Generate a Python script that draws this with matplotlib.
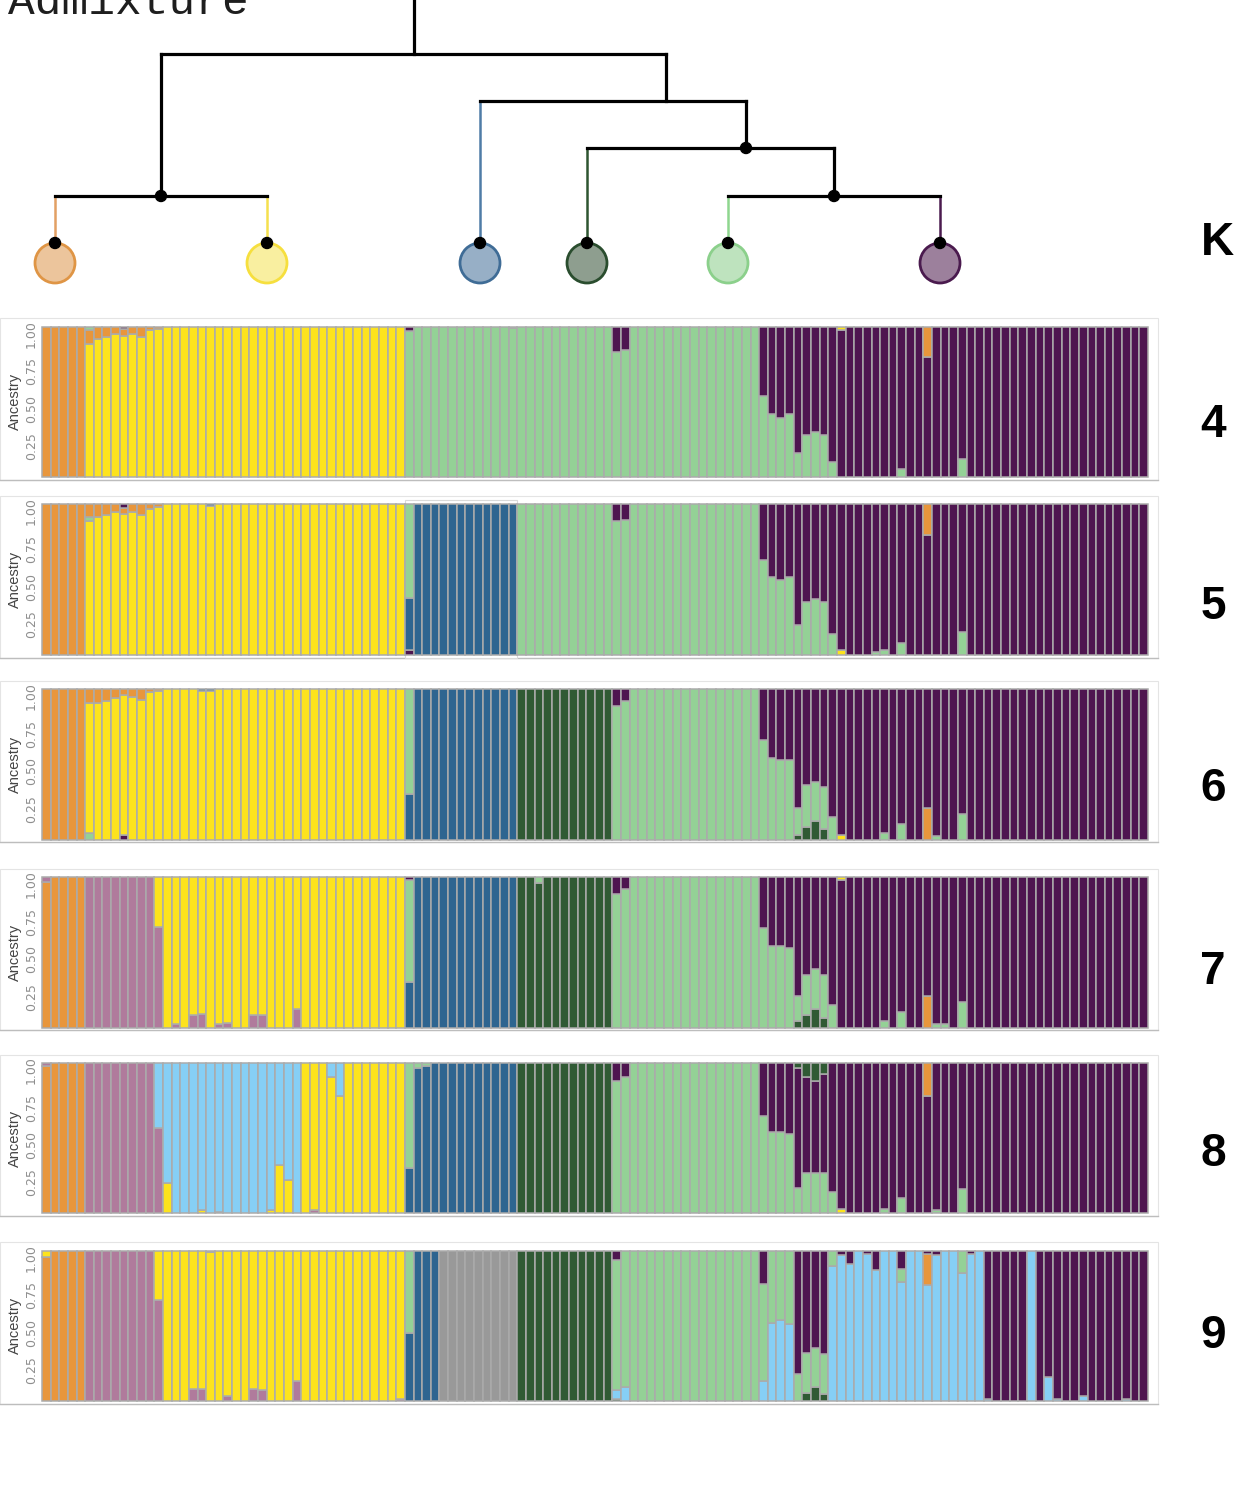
#!/usr/bin/env python3
"""Admixture tree plus stacked ancestry bars for K = 4..9."""

import matplotlib

matplotlib.use("Agg")
import matplotlib.pyplot as plt
from matplotlib.patches import Circle, Rectangle
from matplotlib.transforms import ScaledTranslation

W, H, DPI = 1239, 1495, 100

COLORS = {
    "orange": "#E8963C",
    "yellow": "#FDE31D",
    "lgreen": "#94D196",
    "purple": "#4E1550",
    "blue": "#2E6590",
    "dgreen": "#305A34",
    "mauve": "#B07B9C",
    "lblue": "#86CFF5",
    "gray": "#999999",
}
BAR_EDGE = "#ABABAB"
N_SAMPLES = 128

# pure-ancestry runs (cluster, number of samples), left to right
K4_RUNS = [("orange", 5), ("yellow", 37), ("lgreen", 41), ("purple", 45)]
K5_RUNS = [("orange", 5), ("yellow", 37), ("lgreen", 1), ("blue", 12), ("lgreen", 28), ("purple", 45)]
K6_RUNS = [("orange", 5), ("yellow", 37), ("lgreen", 1), ("blue", 12), ("dgreen", 11),
           ("lgreen", 17), ("purple", 45)]
K7_RUNS = [("orange", 5), ("mauve", 9), ("yellow", 28), ("lgreen", 1), ("blue", 12), ("dgreen", 11),
           ("lgreen", 17), ("purple", 45)]
K8_RUNS = [("orange", 5), ("mauve", 9), ("lblue", 16), ("yellow", 12), ("lgreen", 1), ("blue", 12),
           ("dgreen", 11), ("lgreen", 17), ("purple", 45)]
K9_RUNS = [("orange", 5), ("mauve", 9), ("yellow", 28), ("lgreen", 1), ("blue", 3), ("gray", 9),
           ("dgreen", 11), ("lgreen", 25), ("lblue", 18), ("purple", 19)]

# admixed samples: index -> segments from bottom to top
K4_MIXED = {
    5: [("yellow", .885), ("orange", .09), ("lgreen", .025)],
    6: [("yellow", .92), ("orange", .08)],
    7: [("yellow", .93), ("orange", .07)],
    8: [("yellow", .95), ("orange", .05)],
    9: [("yellow", .94), ("orange", .045), ("purple", .015)],
    10: [("yellow", .95), ("orange", .05)],
    11: [("yellow", .93), ("orange", .07)],
    12: [("yellow", .98), ("orange", .02)],
    13: [("yellow", .985), ("orange", .015)],
    42: [("lgreen", .97), ("purple", .03)],
    54: [("lgreen", .99), ("yellow", .01)],
    66: [("lgreen", .83), ("purple", .17)],
    67: [("lgreen", .845), ("purple", .155)],
    83: [("lgreen", .54), ("purple", .46)],
    84: [("lgreen", .42), ("purple", .58)],
    85: [("lgreen", .39), ("purple", .61)],
    86: [("lgreen", .42), ("purple", .58)],
    87: [("lgreen", .16), ("purple", .84)],
    88: [("lgreen", .28), ("purple", .72)],
    89: [("lgreen", .30), ("purple", .70)],
    90: [("lgreen", .28), ("purple", .72)],
    91: [("lgreen", .10), ("purple", .90)],
    92: [("purple", .98), ("yellow", .02)],
    99: [("lgreen", .05), ("purple", .95)],
    102: [("purple", .80), ("orange", .20)],
    106: [("lgreen", .12), ("purple", .88)],
}
K5_MIXED = {
    5: [("yellow", .89), ("lgreen", .03), ("orange", .08)],
    6: [("yellow", .92), ("orange", .08)],
    7: [("yellow", .93), ("orange", .07)],
    8: [("yellow", .95), ("orange", .05)],
    9: [("yellow", .94), ("orange", .04), ("purple", .02)],
    10: [("yellow", .95), ("orange", .05)],
    11: [("yellow", .93), ("orange", .07)],
    12: [("yellow", .97), ("orange", .03)],
    13: [("yellow", .985), ("orange", .015)],
    19: [("yellow", .99), ("blue", .01)],
    42: [("purple", .03), ("blue", .35), ("lgreen", .62)],
    66: [("lgreen", .89), ("purple", .11)],
    67: [("lgreen", .90), ("purple", .10)],
    83: [("lgreen", .63), ("purple", .37)],
    84: [("lgreen", .52), ("purple", .48)],
    85: [("lgreen", .50), ("purple", .50)],
    86: [("lgreen", .52), ("purple", .48)],
    87: [("lgreen", .20), ("purple", .80)],
    88: [("lgreen", .35), ("purple", .65)],
    89: [("lgreen", .37), ("purple", .63)],
    90: [("lgreen", .35), ("purple", .65)],
    91: [("lgreen", .14), ("purple", .86)],
    92: [("yellow", .03), ("purple", .97)],
    96: [("lgreen", .02), ("purple", .98)],
    97: [("lgreen", .03), ("purple", .97)],
    99: [("lgreen", .08), ("purple", .92)],
    102: [("purple", .80), ("orange", .20)],
    106: [("lgreen", .15), ("purple", .85)],
}
K6_MIXED = {
    5: [("lgreen", .04), ("yellow", .87), ("orange", .09)],
    6: [("yellow", .91), ("orange", .09)],
    7: [("yellow", .92), ("orange", .08)],
    8: [("yellow", .94), ("orange", .06)],
    9: [("purple", .03), ("yellow", .93), ("orange", .04)],
    10: [("yellow", .95), ("orange", .05)],
    11: [("yellow", .93), ("orange", .07)],
    12: [("yellow", .98), ("orange", .02)],
    13: [("yellow", .99), ("orange", .01)],
    18: [("yellow", .99), ("blue", .01)],
    19: [("yellow", .99), ("blue", .01)],
    42: [("blue", .30), ("lgreen", .70)],
    66: [("lgreen", .89), ("purple", .11)],
    67: [("lgreen", .92), ("purple", .08)],
    83: [("lgreen", .66), ("purple", .34)],
    84: [("lgreen", .54), ("purple", .46)],
    85: [("lgreen", .53), ("purple", .47)],
    86: [("lgreen", .53), ("purple", .47)],
    87: [("dgreen", .03), ("lgreen", .18), ("purple", .79)],
    88: [("dgreen", .08), ("lgreen", .28), ("purple", .64)],
    89: [("dgreen", .12), ("lgreen", .26), ("purple", .62)],
    90: [("dgreen", .07), ("lgreen", .28), ("purple", .65)],
    91: [("lgreen", .15), ("purple", .85)],
    92: [("yellow", .03), ("purple", .97)],
    97: [("lgreen", .04), ("purple", .96)],
    99: [("lgreen", .10), ("purple", .90)],
    102: [("orange", .21), ("purple", .79)],
    103: [("lgreen", .02), ("purple", .98)],
    106: [("lgreen", .17), ("purple", .83)],
}
K7_MIXED = {
    0: [("orange", .97), ("mauve", .03)],
    13: [("mauve", .67), ("yellow", .33)],
    15: [("mauve", .02), ("yellow", .98)],
    17: [("mauve", .08), ("yellow", .92)],
    18: [("mauve", .09), ("yellow", .91)],
    20: [("mauve", .02), ("yellow", .98)],
    21: [("mauve", .03), ("yellow", .97)],
    24: [("mauve", .08), ("yellow", .92)],
    25: [("mauve", .08), ("yellow", .92)],
    29: [("mauve", .12), ("yellow", .88)],
    42: [("blue", .30), ("lgreen", .68), ("purple", .02)],
    57: [("dgreen", .96), ("lgreen", .04)],
    66: [("lgreen", .89), ("purple", .11)],
    67: [("lgreen", .92), ("purple", .08)],
    83: [("lgreen", .66), ("purple", .34)],
    84: [("lgreen", .54), ("purple", .46)],
    85: [("lgreen", .54), ("purple", .46)],
    86: [("lgreen", .53), ("purple", .47)],
    87: [("dgreen", .04), ("lgreen", .17), ("purple", .79)],
    88: [("dgreen", .08), ("lgreen", .27), ("purple", .65)],
    89: [("dgreen", .12), ("lgreen", .27), ("purple", .61)],
    90: [("dgreen", .06), ("lgreen", .29), ("purple", .65)],
    91: [("lgreen", .15), ("purple", .85)],
    92: [("purple", .98), ("yellow", .02)],
    97: [("lgreen", .04), ("purple", .96)],
    99: [("lgreen", .10), ("purple", .90)],
    102: [("orange", .21), ("purple", .79)],
    103: [("lgreen", .02), ("purple", .98)],
    104: [("lgreen", .02), ("purple", .98)],
    106: [("lgreen", .17), ("purple", .83)],
}
K8_MIXED = {
    0: [("orange", .98), ("mauve", .02)],
    13: [("mauve", .57), ("lblue", .43)],
    14: [("yellow", .20), ("lblue", .80)],
    18: [("yellow", .02), ("lblue", .98)],
    20: [("yellow", .01), ("lblue", .99)],
    26: [("yellow", .02), ("lblue", .98)],
    27: [("yellow", .32), ("lblue", .68)],
    28: [("yellow", .22), ("lblue", .78)],
    31: [("mauve", .02), ("yellow", .98)],
    33: [("yellow", .91), ("lblue", .09)],
    34: [("yellow", .78), ("lblue", .22)],
    42: [("blue", .30), ("lgreen", .70)],
    43: [("blue", .97), ("lgreen", .03)],
    44: [("blue", .98), ("lgreen", .02)],
    66: [("lgreen", .88), ("purple", .12)],
    67: [("lgreen", .91), ("purple", .09)],
    83: [("lgreen", .65), ("purple", .35)],
    84: [("lgreen", .54), ("purple", .46)],
    85: [("lgreen", .54), ("purple", .46)],
    86: [("lgreen", .53), ("purple", .47)],
    87: [("lgreen", .17), ("purple", .80), ("dgreen", .03)],
    88: [("lgreen", .27), ("purple", .64), ("dgreen", .09)],
    89: [("lgreen", .27), ("purple", .61), ("dgreen", .12)],
    90: [("lgreen", .27), ("purple", .66), ("dgreen", .07)],
    91: [("lgreen", .14), ("purple", .86)],
    92: [("yellow", .03), ("purple", .97)],
    97: [("lgreen", .03), ("purple", .97)],
    99: [("lgreen", .10), ("purple", .90)],
    102: [("purple", .78), ("orange", .22)],
    103: [("lgreen", .02), ("purple", .98)],
    106: [("lgreen", .16), ("purple", .84)],
}
K9_MIXED = {
    0: [("orange", .96), ("yellow", .04)],
    13: [("mauve", .67), ("yellow", .33)],
    17: [("mauve", .08), ("yellow", .92)],
    18: [("mauve", .08), ("yellow", .92)],
    19: [("yellow", .99), ("gray", .01)],
    21: [("mauve", .03), ("yellow", .97)],
    24: [("mauve", .08), ("yellow", .92)],
    25: [("mauve", .07), ("yellow", .93)],
    29: [("mauve", .13), ("yellow", .87)],
    41: [("mauve", .01), ("yellow", .99)],
    42: [("blue", .45), ("lgreen", .55)],
    66: [("dgreen", .01), ("lblue", .06), ("lgreen", .87), ("purple", .06)],
    67: [("lblue", .095), ("lgreen", .905)],
    83: [("lblue", .13), ("lgreen", .65), ("purple", .22)],
    84: [("lblue", .52), ("lgreen", .48)],
    85: [("lblue", .54), ("lgreen", .46)],
    86: [("lblue", .51), ("lgreen", .49)],
    87: [("lgreen", .18), ("purple", .82)],
    88: [("dgreen", .055), ("lgreen", .265), ("purple", .68)],
    89: [("dgreen", .09), ("lgreen", .26), ("purple", .65)],
    90: [("dgreen", .045), ("lgreen", .265), ("purple", .69)],
    91: [("lblue", .90), ("lgreen", .10)],
    92: [("lblue", .97), ("purple", .03)],
    93: [("lblue", .91), ("purple", .09)],
    95: [("lblue", .98), ("purple", .02)],
    96: [("lblue", .87), ("purple", .13)],
    99: [("lblue", .795), ("lgreen", .085), ("purple", .12)],
    102: [("lblue", .775), ("orange", .205), ("purple", .02)],
    103: [("lblue", .97), ("purple", .03)],
    106: [("lblue", .85), ("lgreen", .15)],
    107: [("lblue", .98), ("purple", .02)],
    109: [("lblue", .01), ("purple", .99)],
    114: [("lblue", 1.0)],
    116: [("lblue", .16), ("purple", .84)],
    117: [("lblue", .01), ("purple", .99)],
    120: [("lblue", .03), ("purple", .97)],
    125: [("lblue", .01), ("purple", .99)],
}

PANELS = [
    (4, K4_RUNS, K4_MIXED),
    (5, K5_RUNS, K5_MIXED),
    (6, K6_RUNS, K6_MIXED),
    (7, K7_RUNS, K7_MIXED),
    (8, K8_RUNS, K8_MIXED),
    (9, K9_RUNS, K9_MIXED),
]
# pixel rows (top, bottom) of each bar panel, and the baseline of its K number
PANEL_ROWS = [(326.7, 477), (504.5, 655), (689, 839.5), (877, 1027.5), (1063, 1213), (1250.7, 1401)]
K_LABEL_BASE = [437, 619, 801, 984, 1166, 1348]
BAR_LEFT, BAR_RIGHT = 42, 1148

# tree layout in pixels: leaves (cluster, x, top of stem) and internal branches
LEAF_Y, LEAF_R, TIP_Y = 263, 20, 243
LEAVES = [("orange", 55, 196), ("yellow", 267, 196), ("blue", 480, 101),
          ("dgreen", 587, 148), ("lgreen", 728, 196), ("purple", 940, 196)]
LEAF_FILL = {"orange": "#ECC59C", "yellow": "#F9EFA0", "blue": "#97AFC6",
             "dgreen": "#8E9E8F", "lgreen": "#BEE3BE", "purple": "#9C809C"}
LEAF_EDGE = {"orange": "#DF9545", "yellow": "#F6DF3E", "blue": "#3F6C96",
             "dgreen": "#2A4D2E", "lgreen": "#8BD08B", "purple": "#4A1A4E"}
STEM = {"orange": "#E2A064", "yellow": "#F5E04E", "blue": "#4F7CA6",
        "dgreen": "#2E5531", "lgreen": "#8FD68F", "purple": "#4B1A4F"}
BRANCHES = [
    ((414, 0), (414, 54)), ((161, 54), (666, 54)), ((161, 54), (161, 196)),
    ((55, 196), (267, 196)), ((666, 54), (666, 101)), ((480, 101), (746, 101)),
    ((746, 101), (746, 148)), ((587, 148), (834, 148)), ((834, 148), (834, 196)),
    ((728, 196), (940, 196)),
]
NODES = [(161, 196), (746, 148), (834, 196)]


def columns(runs, mixed):
    cols = []
    for name, count in runs:
        cols.extend([[(name, 1.0)] for _ in range(count)])
    assert len(cols) == N_SAMPLES
    for idx, segs in mixed.items():
        cols[idx] = segs
    return cols


def draw_tree(canvas):
    for (x0, y0), (x1, y1) in BRANCHES:
        canvas.plot([x0, x1], [y0, y1], color="black", lw=2.3, solid_capstyle="projecting", zorder=2)
    for name, x, y_top in LEAVES:
        canvas.plot([x, x], [y_top, TIP_Y], color=STEM[name], lw=1.8, zorder=1)
        canvas.add_patch(Circle((x, LEAF_Y), LEAF_R, facecolor=LEAF_FILL[name],
                                edgecolor=LEAF_EDGE[name], lw=2.0, zorder=3))
        canvas.add_patch(Circle((x, TIP_Y), 5.5, color="black", zorder=4))
    for x, y in NODES:
        canvas.add_patch(Circle((x, y), 5.5, color="black", zorder=4))


def draw_panel(fig, canvas, k, runs, mixed, top, bottom, label_base):
    # light frame around the panel image
    canvas.add_patch(Rectangle((0, top - 8.5), 1158, bottom - top + 11,
                               facecolor="none", edgecolor="#E4E4E4", lw=0.8, zorder=0))
    canvas.plot([0, 1158], [bottom + 2.5, bottom + 2.5], color="#BDBDBD", lw=1.0, zorder=0)
    if k == 5:
        canvas.add_patch(Rectangle((405, top - 5), 112, bottom - top + 8,
                                   facecolor="white", edgecolor="#DADADA", lw=0.8, zorder=0.5))

    ax = fig.add_axes([BAR_LEFT / W, 1 - bottom / H, (BAR_RIGHT - BAR_LEFT) / W, (bottom - top) / H])
    ax.patch.set_alpha(0)
    xs, hs, bs, cs = [], [], [], []
    for i, segs in enumerate(columns(runs, mixed)):
        base = 0.0
        for name, frac in segs:
            xs.append(i)
            hs.append(frac)
            bs.append(base)
            cs.append(COLORS[name])
            base += frac
    ax.bar(xs, hs, bottom=bs, width=1.0, color=cs, edgecolor=BAR_EDGE, linewidth=1.1, clip_on=False)
    ax.set_xlim(-0.5, N_SAMPLES - 0.5)
    ax.set_ylim(0, 1)
    ax.set_xticks([])
    ax.set_yticks([0.25, 0.5, 0.75, 1.0], labels=["0.25", "0.50", "0.75", "1.00"])
    ax.tick_params(axis="y", length=0, pad=3, labelsize=9, labelcolor="#8E8E8E", labelrotation=90)
    shift = ScaledTranslation(0, 2 / DPI, fig.dpi_scale_trans)
    for label in ax.get_yticklabels():
        label.set_transform(label.get_transform() + shift)
    for spine in ax.spines.values():
        spine.set_visible(False)
    ax.text(-27 / (BAR_RIGHT - BAR_LEFT), 0.5, "Ancestry", transform=ax.transAxes, rotation=90,
            ha="center", va="center", fontsize=10.5, color="#444444", family="Liberation Sans")

    fig.text(1213 / W, 1 - label_base / H, str(k), ha="center", va="baseline",
             fontsize=33, fontweight="bold", family="Liberation Sans", color="black")


def main() -> int:
    fig = plt.figure(figsize=(W / DPI, H / DPI), dpi=DPI)
    canvas = fig.add_axes([0, 0, 1, 1])
    canvas.set_xlim(0, W)
    canvas.set_ylim(H, 0)
    canvas.axis("off")

    draw_tree(canvas)
    fig.text(8 / W, 1 - 14 / H, "Admixture", ha="left", va="baseline", fontsize=32,
             family="Liberation Mono", color="#1E1E1E")
    fig.text(1217 / W, 1 - 255 / H, "K", ha="center", va="baseline", fontsize=33,
             fontweight="bold", family="Liberation Sans", color="black")

    for (k, runs, mixed), (top, bottom), base in zip(PANELS, PANEL_ROWS, K_LABEL_BASE):
        draw_panel(fig, canvas, k, runs, mixed, top, bottom, base)

    fig.savefig("out.png", dpi=DPI)
    plt.close(fig)
    return 0


if __name__ == "__main__":
    raise SystemExit(main())
